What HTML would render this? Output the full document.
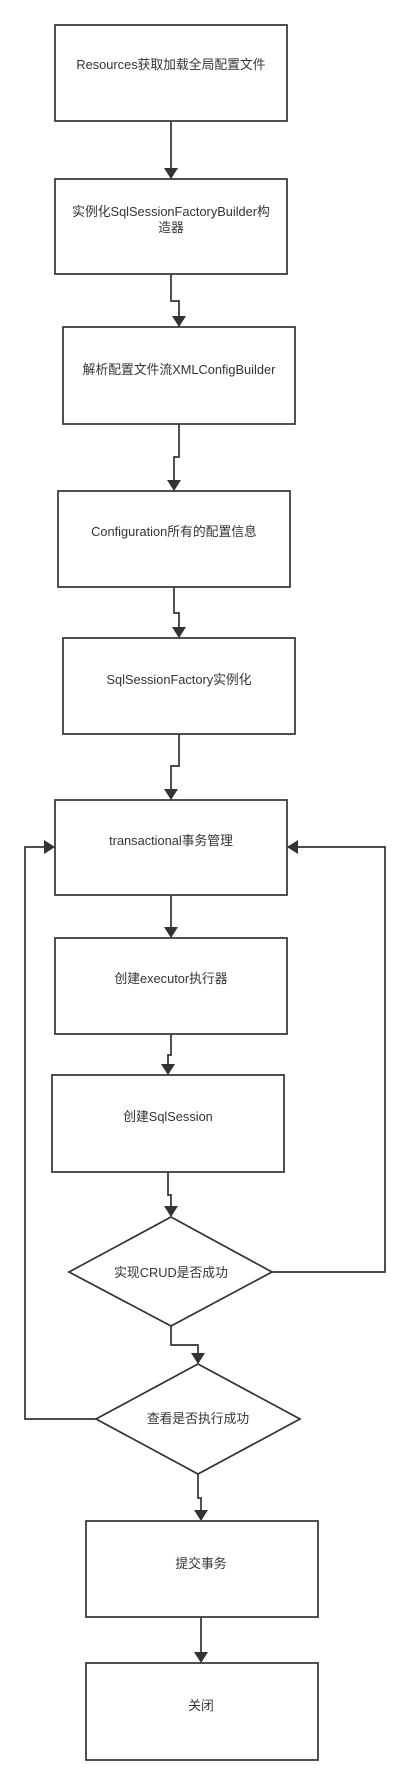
<!DOCTYPE html>
<html><head><meta charset="utf-8"><style>
html,body{margin:0;padding:0;background:#fff;}
svg{display:block;}
text{font-family:"Liberation Sans","Noto Sans CJK SC",sans-serif;font-size:12.8px;fill:#333;text-anchor:middle;}
</style></head><body>
<svg width="410" height="1785" viewBox="0 0 410 1785" xmlns="http://www.w3.org/2000/svg">
<defs><marker id="a" markerWidth="11" markerHeight="14" refX="10" refY="7" orient="auto" markerUnits="userSpaceOnUse"><path d="M0,0 L11,7 L0,14 Z" fill="#333"/></marker></defs>
<g fill="none" stroke="#333" stroke-width="1.7">
<rect x="55" y="25" width="232" height="96"/>
<rect x="55" y="179" width="232" height="95"/>
<rect x="63" y="327" width="232" height="97"/>
<rect x="58" y="491" width="232" height="96"/>
<rect x="63" y="638" width="232" height="96"/>
<rect x="55" y="800" width="232" height="95"/>
<rect x="55" y="938" width="232" height="96"/>
<rect x="52" y="1075" width="232" height="97"/>
<path d="M171,1217 L272,1272 L171,1326 L69,1272 Z"/>
<path d="M198,1364 L300,1419 L198,1474 L96,1419 Z"/>
<rect x="86" y="1521" width="232" height="96"/>
<rect x="86" y="1663" width="232" height="97"/>
<g marker-end="url(#a)">
<path d="M171,121 V178"/>
<path d="M171,274 V301 H179 V326"/>
<path d="M179,424 V457 H174 V490"/>
<path d="M174,587 V613 H179 V637"/>
<path d="M179,734 V766 H171 V799"/>
<path d="M171,895 V937"/>
<path d="M171,1034 V1055 H168 V1074"/>
<path d="M168,1172 V1195 H171 V1216"/>
<path d="M171,1326 V1345 H198 V1363"/>
<path d="M198,1474 V1498 H201 V1520"/>
<path d="M201,1617 V1662"/>
<path d="M272,1272 H385 V847 H288"/>
<path d="M96,1419 H25 V847 H54"/>
</g>
</g>
<text x="171" y="69">Resources获取加载全局配置文件</text>
<text x="171" y="216">实例化SqlSessionFactoryBuilder构</text>
<text x="171" y="232">造器</text>
<text x="179" y="374">解析配置文件流XMLConfigBuilder</text>
<text x="174" y="536">Configuration所有的配置信息</text>
<text x="179" y="684">SqlSessionFactory实例化</text>
<text x="171" y="845">transactional事务管理</text>
<text x="171" y="983">创建executor执行器</text>
<text x="168" y="1121">创建SqlSession</text>
<text x="171" y="1277">实现CRUD是否成功</text>
<text x="198" y="1423">查看是否执行成功</text>
<text x="201" y="1568">提交事务</text>
<text x="201" y="1710">关闭</text>
</svg>
</body></html>
